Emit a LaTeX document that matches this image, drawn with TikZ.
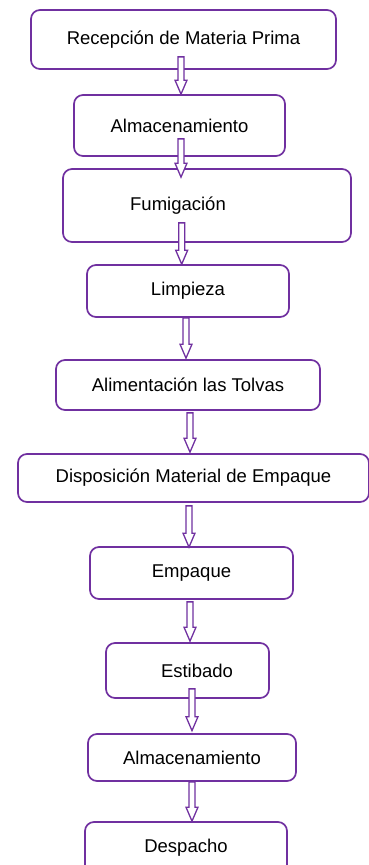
\documentclass[tikz,border=0pt]{standalone}
\usepackage{fontspec}
\setmainfont{Liberation Sans}
\usetikzlibrary{calc}
\definecolor{pur}{RGB}{112,48,160}
\tikzset{
  stepbox/.style={draw=pur, line width=1.7pt, rounded corners=9pt, fill=white,
    inner sep=0pt, font=\fontsize{18.5}{22}\selectfont, text=black},
  blockarrow/.style={draw=pur, fill=white, line width=1.3pt, line join=miter,
    to path={let \p1=(\tikztostart), \p2=(\tikztotarget) in
      (\x1-3pt,\y1) -- (\x1+3pt,\y1) -- (\x1+3pt,\y2+14pt) -- (\x1+6pt,\y2+14pt)
      -- (\x1,\y2) -- (\x1-6pt,\y2+14pt) -- (\x1-3pt,\y2+14pt) -- cycle}}
}
\begin{document}
\begin{tikzpicture}[x=1pt,y=-1pt]
\useasboundingbox (0,0) rectangle (368,865);
\node[stepbox, minimum width=305, minimum height=59] (b1) at (183.5,39.5) {Recepción de Materia Prima};
\node[stepbox, minimum width=211, minimum height=61] (b2) at (179.5,125.5) {Almacenamiento};
\node[stepbox, minimum width=288, minimum height=73] (b3) at (207,205.5) {Fumigación\hspace*{58pt}};
\node[stepbox, minimum width=202, minimum height=52] (b4) at (188,291) {Limpieza};
\node[stepbox, minimum width=264, minimum height=50] (b5) at (188,385) {Alimentación las Tolvas};
\node[stepbox, minimum width=351, minimum height=48] (b6) at (193.5,478) {Disposición Material de Empaque};
\node[stepbox, minimum width=203, minimum height=52] (b7) at (191.5,573) {Empaque};
\node[stepbox, minimum width=163, minimum height=55] (b8) at (187.5,670.5) {\hspace*{19pt}Estibado};
\node[stepbox, minimum width=208, minimum height=47] (b9) at (192,757.5) {Almacenamiento};
\node[stepbox, minimum width=202, minimum height=52] (b10) at (186,848) {Despacho};
\path[blockarrow] ($(b1.south)+(-2.5,-13)$) to ($(b2.north)+(1.5,0)$);
\path[blockarrow] ($(b2.south)+(1.5,-18)$) to ($(b3.north)+(-26,9)$);
\path[blockarrow] ($(b3.south)+(-25.3,-20)$) to ($(b4.north)+(-6.3,0)$);
\path[blockarrow] ($(b4.south)+(-2,0)$) to ($(b5.north)+(-2,-1)$);
\path[blockarrow] ($(b5.south)+(2,2)$) to ($(b6.north)+(-3.5,-1)$);
\path[blockarrow] ($(b6.south)+(-4.5,3)$) to ($(b7.north)+(-2.5,1)$);
\path[blockarrow] ($(b7.south)+(-1.5,2)$) to ($(b8.north)+(2.5,-1)$);
\path[blockarrow] ($(b8.south)+(4.5,-10)$) to ($(b9.north)+(0,-2.5)$);
\path[blockarrow] ($(b9.south)+(0,0)$) to ($(b10.north)+(6,0)$);
\end{tikzpicture}
\end{document}
